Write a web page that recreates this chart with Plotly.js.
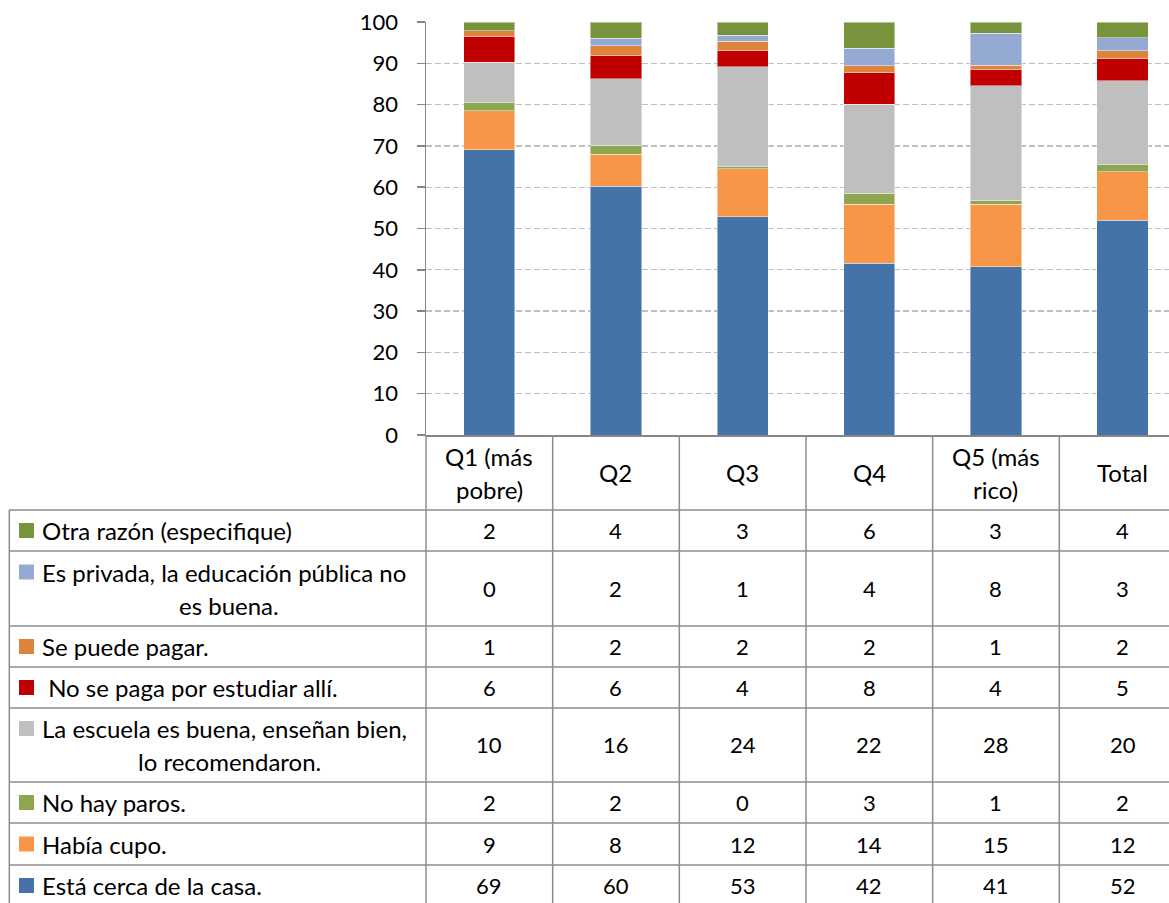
<!DOCTYPE html>
<html>
<head>
<meta charset="utf-8">
<script src="https://cdn.plot.ly/plotly-3.0.1.min.js"></script>
<style>html,body{margin:0;padding:0;background:#fff;}#chart{width:1169px;height:903px;}</style>
</head>
<body>
<div id="chart"></div>
<script>
// ---- DATA ----
const categories = ['Q1 (más<br>pobre)', 'Q2', 'Q3', 'Q4', 'Q5 (más<br>rico)', 'Total'];
// stacked from bottom to top
const cercaCasa    = [69.1, 60.2, 52.9, 41.6, 40.7, 52.0];
const habiaCupo    = [9.4, 7.8, 11.6, 14.3, 15.2, 11.8];
const noHayParos   = [2.1, 2.0, 0.4, 2.6, 0.9, 1.6];
const escuelaBuena = [9.6, 16.2, 24.3, 21.6, 27.8, 20.4];
const noSePaga     = [6.4, 5.6, 4.0, 7.6, 4.0, 5.4];
const sePuedePagar = [1.3, 2.4, 2.2, 1.7, 0.9, 1.8];
const esPrivada    = [0, 1.9, 1.45, 4.2, 7.8, 3.2];
const otraRazon    = [2.1, 3.9, 3.1, 6.4, 2.7, 3.8];
const seriesNames = [
  'Está cerca de la casa.',
  'Había cupo.',
  'No hay paros.',
  'La escuela es buena, enseñan bien,<br>lo recomendaron.',
  '\u00a0No se paga por estudiar allí.',
  'Se puede pagar.',
  'Es privada, la educación pública no<br>es buena.',
  'Otra razón (especifique)'
];
const seriesValues = [cercaCasa, habiaCupo, noHayParos, escuelaBuena, noSePaga, sePuedePagar, esPrivada, otraRazon];
const seriesColors = ['#4572A7', '#F79646', '#8DA64F', '#BFBFBF', '#C00000', '#DC833C', '#94AAD2', '#77933C'];
const yTicks = [0, 10, 20, 30, 40, 50, 60, 70, 80, 90, 100];

// ---- LAYOUT CONSTANTS (pixels) ----
const W = 1169, H = 903;
const L = 426, T = 22, R = 0, B = 468;
const PW = W - L - R, PH = H - T - B;
const xRange = [-0.5, 5.366];
const fx = p => (p - L) / PW;
const fy = p => (T + PH - p) / PH;
const cx = v => (v - xRange[0]) / (xRange[1] - xRange[0]);
const FONT = 'Lato, "Open Sans", sans-serif';
const FS = 22;      // numbers
const FSL = 24;     // text labels
const lineColor = '#8C8C8C';

// ---- TRACES ----
const traces = seriesValues.map((vals, k) => ({
  type: 'bar',
  x: categories,
  y: vals,
  name: seriesNames[k],
  marker: { color: seriesColors[k], line: { color: 'rgba(255,255,255,0.45)', width: 1 } },
  hoverinfo: 'skip'
}));

// ---- TABLE ----
const headerTop = 435, headerBot = 510;
const rowEdges = [510, 551, 626, 667, 708, 782, 823, 865, 906];
const tableLeft = 9.3;
const lineGap = 16.5;
const shapes = [];
const annotations = [];

rowEdges.slice(0, -1).forEach(yp => {
  shapes.push({ type: 'line', xref: 'paper', yref: 'paper', x0: fx(tableLeft), x1: fx(W + 20), y0: fy(yp), y1: fy(yp),
    line: { color: lineColor, width: 1.5 } });
});
shapes.push({ type: 'line', xref: 'paper', yref: 'paper', x0: fx(tableLeft), x1: fx(tableLeft), y0: fy(headerBot), y1: fy(H + 10),
  line: { color: lineColor, width: 1.5 } });
for (let i = -1; i < categories.length; i++) {
  const xv = cx(i + 0.5);
  if (xv > 1.001) continue;
  shapes.push({ type: 'line', xref: 'paper', yref: 'paper', x0: xv, x1: xv, y0: fy(headerTop), y1: fy(H + 10),
    line: { color: lineColor, width: 1.5 } });
}

const headerMid = (headerTop + headerBot) / 2;
categories.forEach((c, i) => {
  const lines = c.split('<br>');
  lines.forEach((ln, j) => {
    const off = lines.length === 1 ? 0 : (j === 0 ? -lineGap : lineGap);
    annotations.push({ xref: 'paper', yref: 'paper', x: cx(i), y: fy(headerMid + off), text: ln, showarrow: false,
      xanchor: 'center', yanchor: 'middle', font: { family: FONT, size: FSL, color: '#000' } });
  });
});

const rowOrder = seriesValues.map((_, k) => k).reverse();
rowOrder.forEach((k, r) => {
  const top = rowEdges[r], bot = rowEdges[r + 1];
  const mid = (top + bot) / 2;
  const lines = seriesNames[k].split('<br>');
  const firstY = lines.length === 1 ? mid : mid - lineGap;
  shapes.push({ type: 'rect', xref: 'paper', yref: 'paper', x0: fx(19), x1: fx(34), y0: fy(firstY - 7.5), y1: fy(firstY + 7.5),
    fillcolor: seriesColors[k], line: { width: 0 } });
  annotations.push({ xref: 'paper', yref: 'paper', x: fx(40), y: fy(firstY), text: lines[0], showarrow: false,
    xanchor: 'left', yanchor: 'middle', font: { family: FONT, size: FSL, color: '#000' } });
  if (lines.length > 1) {
    annotations.push({ xref: 'paper', yref: 'paper', x: fx(229), y: fy(mid + lineGap), text: lines[1], showarrow: false,
      xanchor: 'center', yanchor: 'middle', font: { family: FONT, size: FSL, color: '#000' } });
  }
  seriesValues[k].forEach((v, i) => {
    annotations.push({ xref: 'paper', yref: 'paper', x: cx(i), y: fy(mid), text: String(Math.round(v)), showarrow: false,
      xanchor: 'center', yanchor: 'middle', font: { family: FONT, size: FS, color: '#000' } });
  });
});

const layout = {
  width: W, height: H, autosize: false,
  margin: { l: L, r: R, t: T, b: B, pad: 0 },
  paper_bgcolor: '#fff', plot_bgcolor: '#fff',
  barmode: 'stack', bargap: 0.595,
  showlegend: false,
  xaxis: { type: 'category', range: xRange, showticklabels: false, ticks: '', showgrid: false, zeroline: false,
    showline: true, linecolor: '#868686', linewidth: 1.5, fixedrange: true },
  yaxis: { range: [0, 100], tickvals: yTicks, ticktext: yTicks.map(String), showgrid: true, gridcolor: '#BFBFBF', gridwidth: 1.3,
    griddash: '6px,3px', zeroline: false, showline: true, linecolor: '#868686', linewidth: 1.5,
    ticks: 'outside', ticklen: 8, tickwidth: 1.5, tickcolor: '#868686', ticklabelstandoff: 14,
    tickfont: { family: FONT, size: FS, color: '#000' }, fixedrange: true },
  shapes: shapes,
  annotations: annotations
};

Plotly.newPlot('chart', traces, layout, { staticPlot: true, displayModeBar: false });
</script>
</body>
</html>
